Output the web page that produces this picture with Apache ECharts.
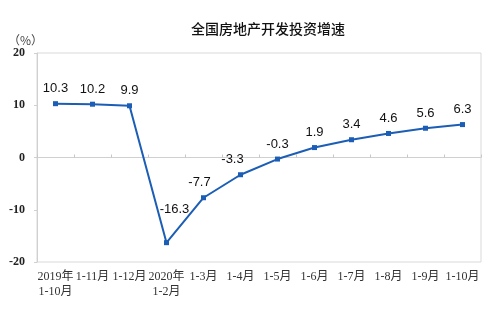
<!DOCTYPE html>
<html>
<head>
<meta charset="utf-8">
<script src="https://cdn.jsdelivr.net/npm/echarts@6/dist/echarts.min.js"></script>
<style>html,body{margin:0;padding:0;background:#fff}#c{width:500px;height:331px}</style>
</head>
<body>
<div id="c"></div>
<script>
const categories = ['2019年\n1-10月','1-11月','1-12月','2020年\n1-2月','1-3月','1-4月','1-5月','1-6月','1-7月','1-8月','1-9月','1-10月'];
const values = [10.3, 10.2, 9.9, -16.3, -7.7, -3.3, -0.3, 1.9, 3.4, 4.6, 5.6, 6.3];
const yTicks = [-20, -10, 0, 10, 20];
const titleText = '全国房地产开发投资增速';
const unitText = '（%）';

const labelTweaks = {3: {distance: 24, offset: [8, 0]}, 4: {offset: [-4, 0]}, 5: {offset: [-8, 0]}};
const seriesData = values.map((v, i) => {
  const t = labelTweaks[i];
  return t ? {value: v, label: t} : v;
});

const chart = echarts.init(document.getElementById('c'), null, {renderer: 'canvas'});
chart.setOption({
  animation: false,
  backgroundColor: '#fff',
  title: {
    text: titleText, left: 263, textAlign: 'center', top: 17,
    textStyle: {fontFamily: 'Noto Sans CJK SC', fontSize: 14, fontWeight: 500, color: '#111'}
  },
  graphic: [{
    type: 'text', left: 8, top: 34,
    style: {text: unitText, fontFamily: 'Noto Sans CJK SC', fontSize: 12, fill: '#444'}
  }],
  grid: {left: 37, right: 19, top: 53, bottom: 69, show: true, borderColor: '#d9d9d9', borderWidth: 1},
  xAxis: {
    type: 'category', data: categories, boundaryGap: true,
    axisLine: {lineStyle: {color: '#d0d0d0'}},
    axisTick: {show: true, inside: true, length: 3, lineStyle: {color: '#c8c8c8'}},
    axisLabel: {interval: 0, margin: 7, color: '#333', fontSize: 12, lineHeight: 15,
      fontFamily: 'Liberation Serif, Noto Sans CJK SC'}
  },
  yAxis: {
    type: 'value', min: yTicks[0], max: yTicks[yTicks.length - 1], interval: 10,
    axisLine: {show: true, lineStyle: {color: '#d0d0d0'}},
    axisTick: {show: true, length: 3, lineStyle: {color: '#d0d0d0'}},
    splitLine: {show: false},
    axisLabel: {margin: 12, color: '#222', fontSize: 12, fontWeight: 'bold', fontFamily: 'Liberation Serif'}
  },
  series: [{
    type: 'line', data: seriesData,
    symbol: 'rect', symbolSize: 5,
    lineStyle: {color: '#1c5db5', width: 2},
    itemStyle: {color: '#1c5db5'},
    label: {show: true, position: 'top', distance: 6, color: '#111', fontSize: 13,
      fontFamily: 'Liberation Sans, Arial'}
  }]
});
</script>
</body>
</html>
